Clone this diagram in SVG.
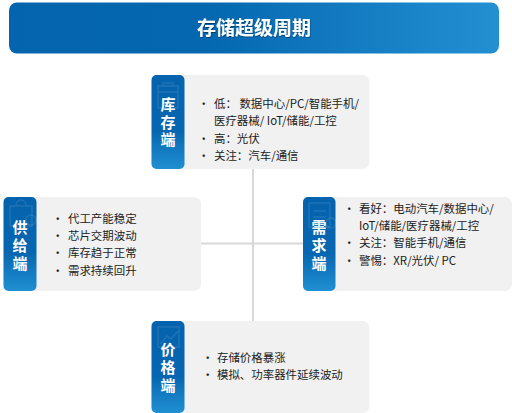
<svg xmlns="http://www.w3.org/2000/svg" width="512" height="413" viewBox="0 0 512 413">
<style>
text{font-family:"Noto Sans CJK SC","Noto Sans",sans-serif}
.card{fill:#f1f1f1}
.tab{fill:url(#tabG)}
.tt{font-size:15px;font-weight:700;fill:#fff;text-anchor:middle}
.b{font-size:11.450px;fill:#222}
.ic{fill:none;stroke:#fff;stroke-opacity:.1;stroke-width:1.5}
.con{stroke:#d8d8d8;stroke-width:2;fill:none}
</style>
<defs>
<linearGradient id="tabG" x1="0" y1="0" x2="0" y2="1"><stop offset="0" stop-color="#0563ad"/><stop offset=".6" stop-color="#0766b1"/><stop offset="1" stop-color="#2090d2"/></linearGradient>
<linearGradient id="hG" x1="0" y1="0" x2="1" y2="0"><stop offset="0" stop-color="#0465ae"/><stop offset=".4" stop-color="#0467b0"/><stop offset="1" stop-color="#2390d2"/></linearGradient>
<filter id="sh" x="-10%" y="-10%" width="120%" height="130%"><feDropShadow dx="0.5" dy="1" stdDeviation="0.6" flood-color="#000" flood-opacity=".4"/></filter>
</defs>
<g id="connectors">
<path class="con" d="M253 169V321M201 243.500H303"/>
</g>
<g id="header">
<rect x="9" y="2.500" width="490" height="51" rx="8" fill="url(#hG)"/>
<text x="254" y="35" font-size="19" font-weight="700" fill="#fff" text-anchor="middle" filter="url(#sh)">存储超级周期</text>
</g>
<g id="node-inventory">
<rect class="card" x="151.500" y="75" width="218" height="94" rx="7"/>
<rect class="tab" x="151.500" y="75" width="33" height="94" rx="5"/>
<path class="ic" d="M158 86h20v22h-20zM158 92h20M163 86v-3h10v3"/>
<text class="tt"><tspan x="168" y="110">库</tspan><tspan x="168" y="127.500">存</tspan><tspan x="168" y="145">端</tspan></text>
<g class="b">
<text x="198" y="107.500">•</text><text x="214" y="107.500">低： 数据中心/PC/智能手机/</text>
<text x="214" y="124.500">医疗器械/ IoT/储能/工控</text>
<text x="198" y="142.500">•</text><text x="214" y="142.500">高：光伏</text>
<text x="198" y="160">•</text><text x="214" y="160">关注：汽车/通信</text>
</g>
</g>
<g id="node-supply">
<rect class="card" x="3.500" y="197" width="197.500" height="94" rx="7"/>
<rect class="tab" x="3.500" y="197" width="33" height="94" rx="5"/>
<path class="ic" d="M10 206h22v20h-22zM16 206c0-8 10-8 10 0"/><circle class="ic" cx="31" cy="220" r="5"/>
<text class="tt"><tspan x="20" y="232.500">供</tspan><tspan x="20" y="251">给</tspan><tspan x="20" y="268.500">端</tspan></text>
<g class="b">
<text x="52" y="222.500">•</text><text x="68" y="222.500">代工产能稳定</text>
<text x="52" y="240">•</text><text x="68" y="240">芯片交期波动</text>
<text x="52" y="257">•</text><text x="68" y="257">库存趋于正常</text>
<text x="52" y="274.500">•</text><text x="68" y="274.500">需求持续回升</text>
</g>
</g>
<g id="node-demand">
<rect class="card" x="303" y="197" width="209" height="94" rx="7"/>
<rect class="tab" x="303" y="197" width="32.500" height="94" rx="5"/>
<path class="ic" d="M309 203h21v24h-21zM313 211h13M313 217h13"/><circle class="ic" cx="331" cy="223" r="5"/>
<text class="tt"><tspan x="319" y="233">需</tspan><tspan x="319" y="251">求</tspan><tspan x="319" y="268.500">端</tspan></text>
<g class="b">
<text x="343.500" y="213">•</text><text x="359" y="213">看好：电动汽车/数据中心/</text>
<text x="359" y="230">IoT/储能/医疗器械/工控</text>
<text x="343.500" y="247">•</text><text x="359" y="247">关注：智能手机/通信</text>
<text x="343.500" y="264.500">•</text><text x="359" y="264.500">警惕：XR/光伏/ PC</text>
</g>
</g>
<g id="node-price">
<rect class="card" x="151.500" y="321" width="218" height="92" rx="7"/>
<rect class="tab" x="151.500" y="321" width="33" height="92" rx="5"/>
<path class="ic" d="M158 327h21v20h-21zM160 344l7-8 4 3 7-8"/>
<text class="tt"><tspan x="168" y="355">价</tspan><tspan x="168" y="373">格</tspan><tspan x="168" y="391">端</tspan></text>
<g class="b">
<text x="202" y="361.500">•</text><text x="217" y="361.500">存储价格暴涨</text>
<text x="202" y="378.500">•</text><text x="217" y="378.500">模拟、功率器件延续波动</text>
</g>
</g>
</svg>
